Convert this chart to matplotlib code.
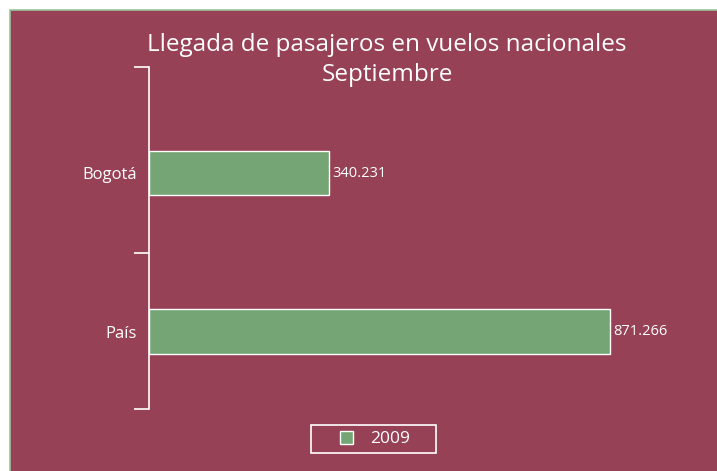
import matplotlib.pyplot as plt
from matplotlib.patches import Rectangle

categories = ["Bogotá", "País"]
values = [340231, 871266]
value_labels = ["340.231", "871.266"]
series_name = "2009"

W, H = 717, 471
bg = "#964155"
bar_color = "#75A574"

plt.rcParams['font.family'] = ['Open Sans', 'DejaVu Sans']

fig = plt.figure(figsize=(W / 100, H / 100), dpi=100)
fig.patch.set_facecolor("white")
fig.patches.append(Rectangle((9.5 / W, -0.1), 1.2, 1 - 9.5 / H + 0.1,
                             transform=fig.transFigure, facecolor=bg,
                             edgecolor="#9CC59A", linewidth=1.2, zorder=-10))

# axes from x=149 to 700, y=67 to 409 (pixels)
ax = fig.add_axes([149 / W, 1 - 409 / H, (700 - 149) / W, (409 - 67) / H])
ax.set_facecolor("none")
ax.set_zorder(5)

pos = list(range(len(categories)))
ax.barh(pos, values, height=0.28, color=bar_color, edgecolor="white", linewidth=1)
ax.set_ylim(1.489, -0.669)
ax.set_xlim(0, 1041000)

for p, v, lab in zip(pos, values, value_labels):
    ax.text(v + 6000, p, lab, color="white", fontsize=10.5, va="center", ha="left")

for s in ["top", "right", "bottom"]:
    ax.spines[s].set_visible(False)
ax.spines["left"].set_color("white")
ax.spines["left"].set_linewidth(1.2)
ax.set_xticks([])
ax.set_yticks(pos)
ax.set_yticklabels(categories, color="white", fontsize=12)
ax.tick_params(axis="y", which="major", length=0, pad=9)
ax.set_yticks([-0.669, 0.505, 1.489], minor=True)
ax.tick_params(axis="y", which="minor", length=10.5, width=1.2, color="white")

fig.text(387 / W, 1 - 45 / H, "Llegada de pasajeros en vuelos nacionales",
         color="white", fontsize=17.5, ha="center", va="center")
fig.text(387 / W, 1 - 75 / H, "Septiembre",
         color="white", fontsize=17.5, ha="center", va="center")

# legend box frame
fig.patches.append(Rectangle((311 / W, 1 - 453 / H), 125 / W, 28 / H,
                             transform=fig.transFigure, facecolor="none",
                             edgecolor="white", linewidth=1.2, zorder=6))
leg = fig.legend([Rectangle((0, 0), 1, 1, facecolor=bar_color, edgecolor="white")],
                 [series_name], loc="center left", bbox_to_anchor=(340 / W, 1 - 439 / H),
                 frameon=False, fontsize=12.5, handlelength=0.75,
                 handleheight=0.75, borderpad=0, handletextpad=1.0,
                 borderaxespad=0)
for t in leg.get_texts():
    t.set_color("white")

fig.savefig("out.png", dpi=100, facecolor=fig.get_facecolor())
